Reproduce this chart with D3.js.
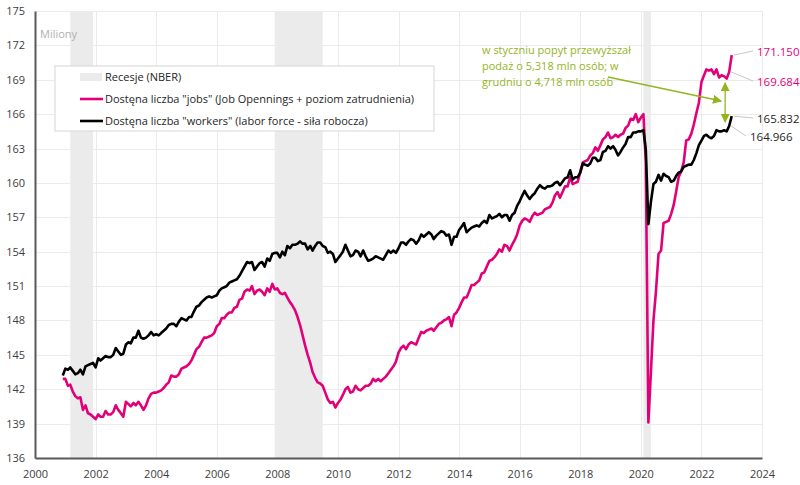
<!DOCTYPE html>
<html>
<head>
<meta charset="utf-8">
<script src="https://cdn.jsdelivr.net/npm/d3@7"></script>
<style>
  body { margin: 0; background: #fff; }
  svg { font-family: "Open Sans", sans-serif; }
</style>
</head>
<body>
<svg id="chart" width="800" height="485"></svg>
<script>
// dane miesięczne od grudnia 2000 do stycznia 2023 (mln osób)
var startMonth = new Date(2000, 11, 1);

// siła robocza (labor force)
var workers = [
  143.2,
  143.8, 143.7, 143.9, 143.6, 143.3, 143.4, 143.7, 143.3, 144.0, 144.1, 144.2, 144.3,
  143.9, 144.7, 144.5, 144.7, 144.9, 144.8, 144.8, 145.0, 145.6, 145.3, 145.0, 145.1,
  145.9, 146.1, 146.0, 146.5, 146.5, 147.1, 146.5, 146.4, 146.5, 146.7, 147.0, 146.7,
  146.8, 146.7, 146.9, 147.1, 147.3, 147.6, 147.7, 147.7, 147.5, 147.9, 148.2, 148.1,
  148.0, 148.3, 148.3, 148.8, 149.2, 149.3, 149.6, 149.8, 150.0, 150.1, 150.0, 150.1,
  150.2, 150.6, 150.8, 150.9, 151.0, 151.3, 151.4, 151.5, 151.6, 151.9, 152.3, 152.7,
  153.1, 153.0, 153.1, 152.4, 152.7, 153.0, 153.1, 152.7, 153.4, 153.2, 153.8, 153.9,
  153.9, 153.5, 154.0, 153.7, 154.5, 154.3, 154.6, 154.6, 154.7, 154.9, 154.7, 154.7,
  154.2, 154.5, 154.1, 154.5, 154.8, 154.8, 154.5, 154.4, 153.9, 154.0, 153.8, 153.1,
  153.4, 153.7, 154.0, 154.6, 154.1, 153.6, 153.7, 154.1, 154.0, 153.6, 154.1, 153.6,
  153.2, 153.3, 153.4, 153.6, 153.5, 153.4, 153.3, 153.7, 154.1, 153.9, 154.1, 153.9,
  154.3, 154.8, 154.8, 154.6, 154.9, 155.1, 155.0, 154.7, 155.0, 155.5, 155.3, 155.5,
  155.7, 155.5, 155.1, 155.4, 155.6, 155.8, 155.7, 155.4, 155.5, 154.6, 155.3, 155.3,
  155.9, 156.2, 156.5, 155.7, 155.9, 156.1, 156.2, 156.3, 156.2, 156.5, 156.7, 156.5,
  157.2, 156.9, 157.0, 157.1, 157.3, 157.0, 157.2, 157.2, 156.7, 157.2, 157.4, 158.0,
  158.4, 158.9, 159.3, 158.9, 158.6, 158.9, 159.1, 159.5, 159.8, 159.6, 159.5, 159.7,
  159.7, 159.8, 160.0, 160.1, 159.8, 160.1, 160.4, 160.5, 161.1, 160.3, 160.5, 160.5,
  160.9, 161.7, 161.6, 161.5, 161.7, 162.2, 162.2, 161.9, 162.0, 162.7, 162.8, 163.2,
  163.0, 163.2, 162.9, 162.4, 162.7, 163.1, 163.4, 164.0, 164.0, 164.4, 164.4, 164.5,
  164.5, 164.6, 162.9, 156.4, 158.3, 159.9, 160.1, 160.7, 160.2, 160.8, 160.6, 160.5,
  160.1, 160.2, 160.6, 160.9, 161.0, 161.4, 161.5, 161.6, 161.6, 162.0, 162.6, 163.3,
  163.7, 164.1, 164.2, 164.0, 163.9, 164.1, 164.6, 164.5, 164.5, 164.6, 164.5, 164.966,
  165.832
];

// oferty pracy + zatrudnienie
var jobs = [
  142.9,
  142.9, 142.3, 142.4, 141.8, 141.4, 141.2, 141.3, 140.2, 140.6, 139.9, 139.8, 139.6,
  139.4, 139.8, 139.6, 139.6, 140.1, 139.8, 139.8, 140.0, 140.6, 140.2, 139.9, 139.6,
  140.9, 140.7, 140.5, 140.8, 140.6, 140.9, 140.6, 140.2, 140.6, 141.2, 141.6, 141.7,
  141.7, 141.8, 141.9, 142.1, 142.4, 142.6, 143.2, 143.1, 143.1, 143.3, 143.8, 143.9,
  144.0, 144.2, 144.5, 145.0, 145.5, 145.7, 146.1, 146.5, 146.5, 146.6, 146.7, 146.9,
  147.5, 147.7, 148.2, 148.2, 148.5, 148.7, 148.7, 149.1, 149.2, 149.8, 149.9, 150.5,
  150.7, 150.6, 151.0, 150.3, 150.6, 150.7, 150.5, 150.2, 150.8, 150.5, 151.2, 150.7,
  150.8, 150.4, 150.3, 150.4, 150.0, 149.6, 149.3, 148.9, 148.3, 147.6, 146.7, 145.8,
  145.0, 144.3, 143.5, 143.0, 142.6, 142.5, 142.3, 141.7, 141.1, 140.8, 140.9, 140.4,
  140.8, 141.1, 141.5, 142.0, 142.2, 141.7, 141.8, 142.3, 142.0, 141.9, 142.1, 142.3,
  142.3, 142.5, 142.9, 142.7, 142.9, 142.7, 142.9, 143.1, 143.4, 143.7, 144.0, 144.4,
  145.2, 145.6, 145.8, 145.5, 145.9, 146.1, 146.0, 145.9, 146.5, 147.0, 146.9, 147.1,
  147.2, 147.3, 147.1, 147.4, 147.7, 147.8, 148.0, 148.1, 148.3, 147.5, 148.5, 148.7,
  149.1, 149.6, 150.0, 150.0, 150.5, 151.1, 151.1, 151.3, 151.5, 152.1, 152.2, 152.7,
  153.2, 153.3, 153.5, 153.8, 154.2, 154.0, 154.6, 154.5, 154.1, 154.6, 155.0, 155.5,
  156.3, 156.7, 156.9, 156.8, 156.6, 157.1, 157.4, 157.2, 157.3, 157.4, 157.7, 157.8,
  157.9, 158.3, 158.9, 159.2, 158.7, 159.2, 159.7, 159.7, 160.5, 159.9, 160.0, 160.1,
  161.0, 161.8, 161.9, 162.0, 162.4, 162.6, 163.1, 162.8, 163.3, 163.8, 164.0, 164.4,
  163.9, 164.0, 164.2, 164.0, 164.2, 164.3, 164.8, 165.0, 165.6, 165.5, 166.0, 165.3,
  165.7, 166.0, 161.9, 139.1, 143.4, 148.0, 150.5, 153.8, 154.1, 156.5, 156.6, 156.7,
  157.3, 158.1, 159.2, 160.5, 161.0, 161.8, 163.7, 163.8, 164.3, 165.1, 166.1, 167.0,
  168.8, 169.4, 169.9, 169.8, 169.9, 169.5, 169.9, 169.2, 169.4, 169.3, 169.1, 169.684,
  171.150
];

// recesje NBER (pierwszy i ostatni miesiąc)
var recessionStart = ["2001-03", "2007-12", "2020-02"];
var recessionEnd = ["2001-11", "2009-06", "2020-04"];

var yTicks = [136, 139, 142, 145, 148, 151, 154, 157, 160, 163, 166, 169, 172, 175];
var xTicks = [2000, 2002, 2004, 2006, 2008, 2010, 2012, 2014, 2016, 2018, 2020, 2022, 2024];

var legendLabels = [
  "Recesje (NBER)",
  "Dostęna liczba \"jobs\" (Job Opennings + poziom zatrudnienia)",
  "Dostęna liczba \"workers\" (labor force - siła robocza)"
];
var noteLines = [
  "w styczniu popyt przewyższał",
  "podaż o 5,318 mln osób; w",
  "grudniu o 4,718 mln osób"
];

var pink = "#e2007a", green = "#93b51e";

var svg = d3.select("#chart");
var plotLeft = 35, plotRight = 762, plotTop = 11, plotBottom = 458;

var x = d3.scaleTime()
  .domain([new Date(2000, 0, 1), new Date(2024, 0, 1)])
  .range([plotLeft, plotRight]);
var y = d3.scaleLinear().domain([136, 175]).range([plotBottom, plotTop]);

var parseMonth = d3.timeParse("%Y-%m");
function monthAt(i) { return d3.timeMonth.offset(startMonth, i); }

// tło recesji
svg.append("g").selectAll("rect")
  .data(recessionStart)
  .join("rect")
  .attr("x", function (d) { return x(parseMonth(d)); })
  .attr("width", function (d, i) {
    return x(d3.timeMonth.offset(parseMonth(recessionEnd[i]), 1)) - x(parseMonth(d));
  })
  .attr("y", plotTop)
  .attr("height", plotBottom - plotTop)
  .attr("fill", "#ebebeb");

// siatka
var grid = svg.append("g").attr("stroke", "#ebebeb").attr("stroke-width", 1);
grid.selectAll("line.h")
  .data(yTicks.slice(1))
  .join("line")
  .attr("class", "h")
  .attr("x1", plotLeft).attr("x2", plotRight)
  .attr("y1", function (d) { return Math.round(y(d)) + 0.5; })
  .attr("y2", function (d) { return Math.round(y(d)) + 0.5; });
grid.selectAll("line.v")
  .data(xTicks.slice(1))
  .join("line")
  .attr("class", "v")
  .attr("y1", plotTop).attr("y2", plotBottom)
  .attr("x1", function (d) { return Math.round(x(new Date(d, 0, 1))) + 0.5; })
  .attr("x2", function (d) { return Math.round(x(new Date(d, 0, 1))) + 0.5; });

// osie
var yAxis = svg.append("g")
  .attr("transform", "translate(" + plotLeft + ",0)")
  .call(d3.axisLeft(y).tickValues(yTicks).tickSize(0).tickPadding(10));
var xAxis = svg.append("g")
  .attr("transform", "translate(0," + plotBottom + ")")
  .call(d3.axisBottom(x)
    .tickValues(xTicks.map(function (d) { return new Date(d, 0, 1); }))
    .tickFormat(d3.timeFormat("%Y"))
    .tickSize(0).tickPadding(12));
[yAxis, xAxis].forEach(function (a) {
  a.select(".domain").attr("stroke", "#595959").attr("stroke-width", 2);
  a.selectAll("text").attr("fill", "#404040").style("font-size", "11px")
    .style("font-family", "'Open Sans', sans-serif");
});

svg.append("text")
  .attr("x", plotLeft + 5).attr("y", 38)
  .attr("fill", "#b0b0b0").style("font-size", "11px")
  .text("Miliony");

// linie
var line = d3.line()
  .x(function (d, i) { return x(monthAt(i)); })
  .y(function (d) { return y(d); });

svg.append("path")
  .datum(jobs)
  .attr("fill", "none")
  .attr("stroke", pink)
  .attr("stroke-width", 2.6)
  .attr("stroke-linejoin", "round")
  .attr("d", line);

svg.append("path")
  .datum(workers)
  .attr("fill", "none")
  .attr("stroke", "#000")
  .attr("stroke-width", 2.6)
  .attr("stroke-linejoin", "round")
  .attr("d", line);

// legenda
var legend = svg.append("g").attr("transform", "translate(55,66)");
legend.append("rect")
  .attr("width", 379).attr("height", 65)
  .attr("fill", "#fff").attr("stroke", "#d6d6d6");
legendLabels.forEach(function (t, i) {
  var ly = 11 + i * 22;
  if (i === 0) {
    legend.append("rect").attr("x", 25).attr("y", ly - 4).attr("width", 22).attr("height", 8)
      .attr("fill", "#ebebeb");
  } else {
    legend.append("line").attr("x1", 25).attr("x2", 48).attr("y1", ly).attr("y2", ly)
      .attr("stroke", i === 1 ? pink : "#000").attr("stroke-width", 2.6);
  }
  legend.append("text")
    .attr("x", 50).attr("y", ly).attr("dy", "0.35em")
    .attr("fill", "#262626").style("font-size", "11px")
    .text(t);
});

// etykiety końcowe
var n = jobs.length;
var endPoints = [
  { v: jobs[n - 1], i: n - 1, color: pink, lx: 757, ly: 52 },
  { v: jobs[n - 2], i: n - 2, color: pink, lx: 757, ly: 82 },
  { v: workers[n - 1], i: n - 1, color: "#262626", lx: 757, ly: 119 },
  { v: workers[n - 2], i: n - 2, color: "#262626", lx: 750, ly: 137 }
];
endPoints.forEach(function (p) {
  var px = x(monthAt(p.i)), py = y(p.v);
  svg.append("line")
    .attr("x1", px + 2).attr("y1", py)
    .attr("x2", p.lx - 4).attr("y2", p.ly - 1)
    .attr("stroke", "#c8c8c8").attr("stroke-width", 1);
  svg.append("text")
    .attr("x", p.lx).attr("y", p.ly).attr("dy", "0.35em")
    .attr("fill", p.color).style("font-size", "11.5px")
    .text(d3.format(".3f")(p.v));
});

// adnotacja
svg.append("defs").append("marker")
  .attr("id", "head")
  .attr("viewBox", "0 0 10 10")
  .attr("refX", 9).attr("refY", 5)
  .attr("markerWidth", 7).attr("markerHeight", 7)
  .attr("orient", "auto-start-reverse")
  .append("path").attr("d", "M0,0L10,5L0,10z").attr("fill", green);

noteLines.forEach(function (t, i) {
  svg.append("text")
    .attr("x", 482).attr("y", 50 + i * 16).attr("dy", "0.35em")
    .attr("fill", green).style("font-size", "11px")
    .text(t);
});

var decX = x(monthAt(n - 2)) - 4;
svg.append("line")
  .attr("x1", 608).attr("y1", 77)
  .attr("x2", decX - 4).attr("y2", 101)
  .attr("stroke", green).attr("stroke-width", 1.3)
  .attr("marker-end", "url(#head)");
svg.append("line")
  .attr("x1", decX).attr("y1", y(jobs[n - 2]) + 11)
  .attr("x2", decX).attr("y2", y(workers[n - 2]) - 4)
  .attr("stroke", green).attr("stroke-width", 1.3)
  .attr("marker-start", "url(#head)")
  .attr("marker-end", "url(#head)");
</script>
</body>
</html>
